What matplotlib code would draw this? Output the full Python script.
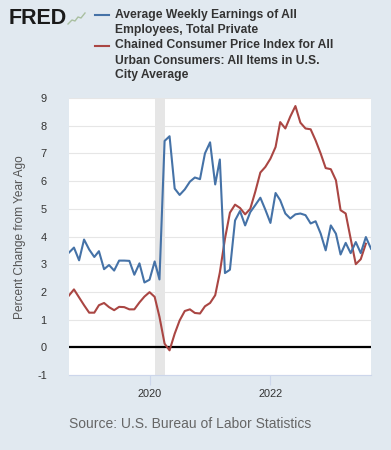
import matplotlib
matplotlib.use("Agg")
import matplotlib.pyplot as plt
import matplotlib.dates as mdates
from matplotlib.lines import Line2D
import pandas as pd

# Percent change from year ago, monthly, first value is Sep 2018
earnings_start = "2018-09-01"
earnings_pct = [
    3.42, 3.60, 3.14, 3.89,
    3.53, 3.26, 3.47, 2.82, 2.97, 2.77, 3.13, 3.13, 3.12, 2.62, 3.03, 2.34,
    2.44, 3.10, 2.45, 7.45, 7.62, 5.73, 5.50, 5.70, 5.98, 6.13, 6.07, 7.00,
    7.40, 5.88, 6.78, 2.68, 2.80, 4.58, 4.92, 4.40, 4.88, 5.13, 5.40, 4.97,
    4.49, 5.57, 5.31, 4.83, 4.65, 4.80, 4.83, 4.77, 4.47, 4.55, 4.10, 3.50,
    4.40, 4.10, 3.35, 3.77, 3.40, 3.80, 3.40, 3.98, 3.56,
]
cpi_start = "2018-09-01"
cpi_pct = [
    1.87, 2.09, 1.80, 1.52,
    1.25, 1.25, 1.52, 1.60, 1.45, 1.34, 1.46, 1.45, 1.37, 1.37, 1.62, 1.83,
    1.99, 1.82, 1.10, 0.13, -0.11, 0.49, 0.97, 1.31, 1.37, 1.24, 1.22, 1.48,
    1.60, 1.88, 2.70, 3.92, 4.86, 5.15, 5.03, 4.80, 5.00, 5.61, 6.31, 6.51,
    6.81, 7.23, 8.13, 7.90, 8.33, 8.71, 8.11, 7.90, 7.87, 7.47, 6.99, 6.47,
    6.43, 6.03, 4.95, 4.83, 3.92, 3.00, 3.18, 3.74,
]

recession = ("2020-02-01", "2020-04-01")
y_ticks = list(range(-1, 10))
x_ticks = ["2020-01-01", "2022-01-01"]
x_tick_labels = ["2020", "2022"]

earnings_label = ["Average Weekly Earnings of All", "Employees, Total Private"]
cpi_label = ["Chained Consumer Price Index for All",
             "Urban Consumers: All Items in U.S.", "City Average"]
y_title = "Percent Change from Year Ago"
source = "Source: U.S. Bureau of Labor Statistics"

BG = "#e1e9f0"
BLUE = "#4572a7"
RED = "#aa4643"
W, H = 391, 450

plt.rcParams["font.family"] = ["Liberation Sans", "DejaVu Sans"]

earn_dates = pd.date_range(earnings_start, periods=len(earnings_pct), freq="MS")
cpi_dates = pd.date_range(cpi_start, periods=len(cpi_pct), freq="MS")

fig = plt.figure(figsize=(W / 100, H / 100), dpi=100, facecolor=BG)
ax = fig.add_axes([69 / W, 1 - 375 / H, 302 / W, 277 / H])
ax.set_facecolor("white")


def fpx(x, y):
    # pixel position (from top-left) -> figure fraction
    return x / W, 1 - y / H


# recession bar
ax.axvspan(pd.Timestamp(recession[0]), pd.Timestamp(recession[1]),
           color="#e6e6e6", lw=0, zorder=0)

for v in y_ticks:
    ax.axhline(v, color="#e6e6e6", lw=0.8, zorder=1)
ax.axhline(0, color="black", lw=1.6, zorder=2)

ax.plot(earn_dates, earnings_pct, color=BLUE, lw=1.5, zorder=4,
        solid_joinstyle="round")
ax.plot(cpi_dates, cpi_pct, color=RED, lw=1.5, zorder=3,
        solid_joinstyle="round")

ax.set_xlim(earn_dates[0], earn_dates[-1])
ax.set_ylim(-1, 9)

ax.set_yticks(y_ticks)
ax.set_yticklabels([str(v) for v in y_ticks])
ax.tick_params(axis="y", length=0, pad=16, labelsize=7.9, labelcolor="#333333")

ax.set_xticks([mdates.date2num(pd.Timestamp(d)) for d in x_ticks])
ax.set_xticklabels(x_tick_labels)
ax.tick_params(axis="x", length=7, width=0.8, color="#ccd6eb", pad=3,
               labelsize=7.9, labelcolor="#333333")

for side in ["top", "right", "left"]:
    ax.spines[side].set_visible(False)
ax.spines["bottom"].set_color("#ccd6eb")
ax.spines["bottom"].set_linewidth(0.8)

fig.text(*fpx(20, 237), y_title, rotation=90, ha="center", va="center",
         fontsize=8.6, color="#555555")

# header: FRED logo + legend
fig.text(*fpx(9, 19), "FRED", ha="left", va="center", fontsize=15.5,
         fontweight="heavy", color="#1a1a1a")
icon_x = [68, 72, 75, 78, 81, 85]
icon_y = [24, 20, 21, 17, 18, 13]
fig.add_artist(Line2D([x / W for x in icon_x], [1 - y / H for y in icon_y],
                      transform=fig.transFigure, color="#a9bfa0", lw=1.0))

fig.add_artist(Line2D([95 / W, 109 / W], [1 - 15 / H] * 2,
                      transform=fig.transFigure, color=BLUE, lw=1.5))
fig.add_artist(Line2D([95 / W, 109 / W], [1 - 45.5 / H] * 2,
                      transform=fig.transFigure, color=RED, lw=1.5))

label_rows = earnings_label + cpi_label
row_y = [15, 30.5, 45.5, 60.5, 75]
for txt, y in zip(label_rows, row_y):
    fig.text(*fpx(115, y), txt, ha="left", va="center", fontsize=8.7,
             fontweight="bold", color="#333333")

fig.text(*fpx(69, 424), source, ha="left", va="center", fontsize=10.0,
         color="#666666")

fig.savefig("out.png", dpi=100, facecolor=BG)
